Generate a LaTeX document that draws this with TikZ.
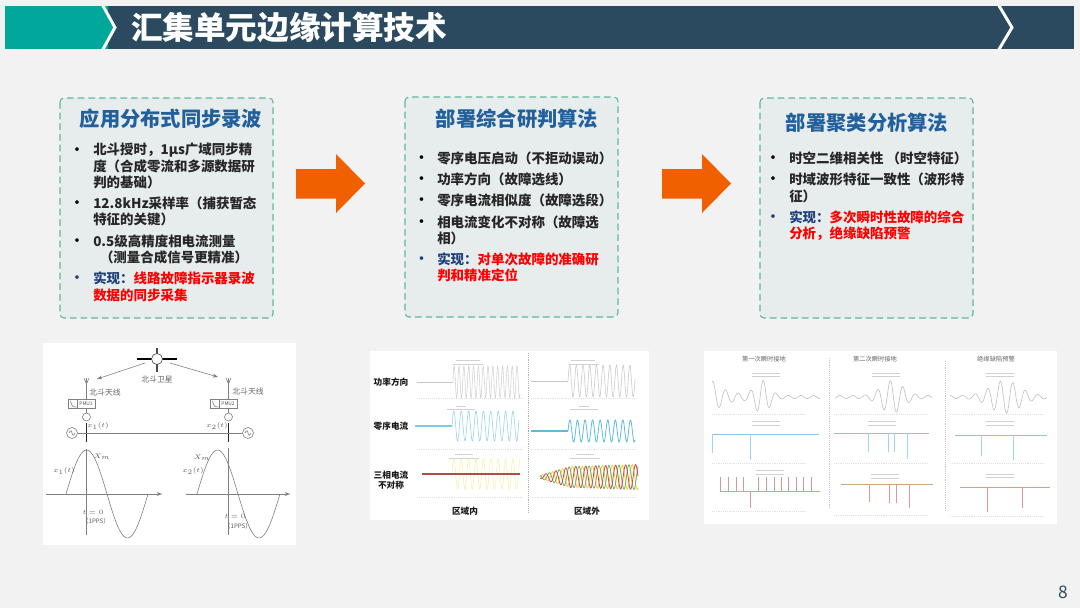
\documentclass[tikz,border=0pt]{standalone}
\usepackage{fontspec}
\setmainfont{Noto Sans CJK SC}
\usepackage{tikz}
\usetikzlibrary{arrows.meta}
\definecolor{pagebg}{HTML}{F2F2F2}
\definecolor{bannerteal}{HTML}{02A79C}
\definecolor{bannernavy}{HTML}{2B4A5F}
\definecolor{panelfill}{HTML}{E7ECEC}
\definecolor{paneldash}{HTML}{5DB8A0}
\definecolor{headblue}{HTML}{22609C}
\definecolor{fillorange}{HTML}{F06000}
\definecolor{donenavy}{HTML}{1F3F7A}
\definecolor{tracecyan}{HTML}{5FBBDD}
\tikzset{
	panelbox/.style={draw=paneldash,fill=panelfill,line width=0.8pt,dash pattern=on 5pt off 3pt,rounded corners=3pt},
	panelhead/.style={text=headblue,font=\fontsize{15.2}{17}\selectfont\bfseries,inner sep=0pt},
	itemline/.style={anchor=west,font=\fontsize{10.1}{12}\selectfont\bfseries,inner sep=0pt,text=black!85},
	dotmark/.style={anchor=center,yshift=-1pt,font=\fontsize{9.7}{12}\selectfont\bfseries,inner sep=0pt},
	photobox/.style={fill=white,draw=none},
	schemtext/.style={font=\fontsize{5.9}{7}\selectfont,text=black!60,inner sep=0pt},
	shotlabel/.style={font=\fontsize{4.7}{6}\selectfont,text=black!60,inner sep=0pt},
	charthead/.style={font=\fontsize{6.5}{8}\selectfont\bfseries,text=black!90,inner sep=0pt},
	mathsmall/.style={font=\fontsize{4.6}{5}\selectfont\itshape,text=black!65,inner sep=0pt},
	schem/.style={draw=black!50,line width=0.45pt},
	smudge/.style={draw=black!18,line width=0.6pt},
	ticksrow/.style={draw=black!12,densely dotted},
}
\begin{document}
\begin{tikzpicture}[x=0.75pt,y=-0.75pt]
	\useasboundingbox (0,0) rectangle (1080,608);
	\fill[pagebg] (0,0) rectangle (1080,608);

	%--- banner ---
	\fill[bannerteal] (5,6) rectangle (108,49);
	\fill[bannernavy] (108,6) rectangle (1074,49);
	\fill[bannerteal] (108,6) -- (104,6) -- (115,27.5) -- (104,49) -- (108,49) -- cycle;
	\draw[white,line width=2.2pt] (102,4) -- (115,27.5) -- (102,51);
	\draw[white,line width=2.2pt] (998,4) -- (1012,27.5) -- (998,51);
	\fill[pagebg] (95,49) rectangle (110,52);
	\fill[pagebg] (95,3) rectangle (110,6);
	\fill[pagebg] (990,49) rectangle (1010,52);
	\fill[pagebg] (990,3) rectangle (1010,6);
	\node[text=white,font=\fontsize{23.7}{26}\selectfont\bfseries,inner sep=0pt] (titlenode) at (289,28) {汇集单元边缘计算技术};

	%--- three panels ---
	\draw[panelbox] (60,98) rectangle (273,318);
	\draw[panelbox] (405,97) rectangle (618,317);
	\draw[panelbox] (760,98) rectangle (973,318);
	\node[panelhead] (headone) at (171,118.5) {应用分布式同步录波};
	\node[panelhead] (headtwo) at (517,118.5) {部署综合研判算法};
	\node[panelhead] (headthree) at (867,123) {部署聚类分析算法};

	% first panel text
	\foreach \y/\lab in {150/北斗授时，1μs广域同步精, 166/度（合成零流和多源数据研, 182/判的基础）, 203/12.8kHz采样率（捕获暂态, 219/特征的关键）, 241/0.5级高精度相电流测量, 257/\hspace{0.5em}（测量合成信号更精准）}{
		\node[itemline] at (93,\y) {\lab};
	}
	\foreach \y in {150,203,241}{
		\node[dotmark] at (77,\y) {•};
	}
	\node[dotmark,text=donenavy] at (77,278) {•};
	\node[itemline] at (93,278) {\textcolor{donenavy}{实现：}\textcolor{red}{线路故障指示器录波}};
	\node[itemline,text=red] at (93,295) {数据的同步采集};

	% second panel text
	\foreach \y/\lab in {158/零序电压启动（不拒动误动）, 179/功率方向（故障选线）, 200/零序电流相似度（故障选段）, 222/相电流变化不对称（故障选, 238/相）}{
		\node[itemline] at (437,\y) {\lab};
	}
	\foreach \y in {158,179,200,222}{
		\node[dotmark] at (421.5,\y) {•};
	}
	\node[dotmark,text=donenavy] at (421.5,259) {•};
	\node[itemline] at (437,259) {\textcolor{donenavy}{实现：}\textcolor{red}{对单次故障的准确研}};
	\node[itemline,text=red] at (437,275) {判和精准定位};

	% third panel text
	\foreach \y/\lab in {158/时空二维相关性 （时空特征）, 179/时域波形特征一致性（波形特, 196/征）}{
		\node[itemline] at (789,\y) {\lab};
	}
	\foreach \y in {158,179}{
		\node[dotmark] at (773,\y) {•};
	}
	\node[dotmark,text=donenavy] at (773,217) {•};
	\node[itemline] at (789,217) {\textcolor{donenavy}{实现：}\textcolor{red}{多次瞬时性故障的综合}};
	\node[itemline,text=red] at (789,234) {分析，绝缘缺陷预警};

	%--- big arrows ---
	\fill[fillorange] (296,169) -- (336,169) -- (336,154) -- (365,183.5) -- (336,213) -- (336,198.5) -- (296,198.5) -- cycle;
	\fill[fillorange] (662,169) -- (702,169) -- (702,154) -- (731,183.5) -- (702,213) -- (702,198.5) -- (662,198.5) -- cycle;

	%--- left picture: Beidou timing ---
	\fill[photobox] (43,343) rectangle (296,545);
	\draw[black,line width=1.6pt] (137,359) -- (177,359);
	\draw[black!70,line width=0.8pt] (157,348) -- (157,372);
	\draw[black!70,fill=white,line width=0.5pt] (157,359) circle (5.5);
	\node[schemtext] (satlabel) at (157,380) {北斗卫星};
	\coordinate (satleft) at (145,363);
	\coordinate (satright) at (170,363);
	\coordinate (antone) at (97,379);
	\coordinate (anttwo) at (218,377);
	\draw[schem,-{Stealth[length=4pt]}] (satleft) -- (antone);
	\draw[schem,-{Stealth[length=4pt]}] (satright) -- (anttwo);
	\node[schemtext] at (105,392) {北斗天线};
	\node[schemtext] at (248,391) {北斗天线};
	% stations
	\foreach \x/\lab in {86.5/PMU1, 228.5/PMU2}{
		\draw[schem] (\x,384) -- (\x,414);
		\draw[schem] (\x-2.5,378) -- (\x,384) -- (\x+2.5,378) (\x,378) -- (\x,384);
		\draw[schem,fill=white] (\x-18,399) rectangle (\x+9,408);
		\draw[schem] (\x-18,399) rectangle (\x-9,408);
		\draw[schem] (\x-16,401) .. controls (\x-14,408) and (\x-13,407) .. (\x-10,407);
		\node[font=\fontsize{3.6}{4}\selectfont,text=black!70,inner sep=0] at (\x-0.5,403.5) {\lab};
		\draw[schem,fill=white] (\x,417) circle (4);
		\draw[black!85,line width=1.3pt] (\x,423) -- (\x,442);
	}
	\draw[schem] (78,433) -- (242,433);
	\foreach \x in {72,248}{
		\draw[schem,fill=white] (\x,433) circle (5.5);
		\draw[schem] (\x-3,433) .. controls (\x-1.5,430) and (\x-0.5,430) .. (\x,433) .. controls (\x+0.5,436) and (\x+1.5,436) .. (\x+3,433);
	}
	\node[mathsmall] at (98,426) {$x_1(t)$};
	\node[mathsmall] at (217,426) {$x_2(t)$};
	% waves
	\draw[schem,-{Stealth[length=4pt]}] (46,494) -- (162,494);
	\draw[schem,-{Stealth[length=4pt]}] (186,494) -- (290,494);
	\draw[schem] (86.5,449) -- (86.5,535);
	\draw[schem] (228.5,448) -- (228.5,535);
	\draw[schem,domain=66:107,samples=30,smooth] plot (\x,{494-44*sin(deg(3.14159*(\x-66)/41))});
	\draw[schem,domain=107:148,samples=30,smooth] plot (\x,{494+44*sin(deg(3.14159*(\x-107)/41))});
	\draw[schem,domain=197:238,samples=30,smooth] plot (\x,{494-44*sin(deg(3.14159*(\x-197)/41))});
	\draw[schem,domain=238:280,samples=30,smooth] plot (\x,{494+44*sin(deg(3.14159*(\x-238)/42))});
	\node[mathsmall] at (102,457) {$X_m$};
	\node[mathsmall] at (202,458) {$X_m$};
	\node[mathsmall] at (64,471) {$x_1(t)$};
	\node[mathsmall] at (193,471) {$x_2(t)$};
	\node[mathsmall] at (93,512) {$t=0$};
	\node[mathsmall] at (96,521) {（1PPS）};
	\node[mathsmall] at (235,516) {$t=0$};
	\node[mathsmall] at (238,526) {（1PPS）};

	%--- middle picture ---
	\fill[photobox] (370,351) rectangle (649,520);
	\draw[black!30,densely dotted] (528,353) -- (528,512);
	\node[charthead] at (391,382) {功率方向};
	\node[charthead] at (391,426) {零序电流};
	\node[charthead] at (391,475) {三相电流};
	\node[charthead] at (391,485) {不对称};
	\node[charthead] at (465,511) {区域内};
	\node[charthead] at (587,511) {区域外};
	% title smudges
	\foreach \x/\y/\w in {468/360/12, 468/364/15, 583/360/12, 584/364/15, 461/406/5, 461/409/14, 584/406/5, 584/409/14, 464/454/9, 464/458/15, 585/454/9, 585/458/15}{
		\draw[smudge] (\x-\w,\y) -- (\x+\w,\y);
	}
	% quiet part then sine
	\draw[black!22,line width=0.4pt] (417,382) -- (453,382);
	\draw[black!18,line width=0.4pt,domain=453:520,samples=300] plot (\x,{382-16*sin(deg((\x-453)*1.3))});
	\draw[black!22,line width=0.4pt] (531,381) -- (568,381);
	\draw[black!22,line width=0.4pt,domain=568:635,samples=200] plot (\x,{381-16*sin(deg((\x-568)*0.94))});
	\draw[tracecyan!80,line width=0.8pt] (415,426) -- (452,426);
	\draw[tracecyan!70,line width=0.4pt,domain=452:519,samples=200] plot (\x,{426-15*sin(deg((\x-452)*0.85))});
	\draw[tracecyan,line width=1.4pt] (531,431) -- (568,431);
	\draw[tracecyan,line width=0.6pt,domain=568:635,samples=200] plot (\x,{431-11*sin(deg((\x-568)*0.83))});
	\draw[yellow!70!orange!35,line width=0.4pt,domain=452:520,samples=200] plot (\x,{474-15*sin(deg((\x-452)*0.85))});
	\draw[red!55!black!70,line width=0.8pt] (422,474) -- (520,474);
	\foreach \c/\ph in {orange!50!yellow!80/0,green!50!black!60/120,red!70!black!70/240}{
		\draw[\c,line width=0.6pt,domain=540:638,samples=240] plot (\x,{477-(1.5+8*min(1,(\x-540)/30)+3*(\x-540)/98)*sin(deg((\x-540)*0.63)+\ph)});
	}
	\foreach \x/\y in {417/398, 531/398, 417/449, 531/449, 417/497, 531/497}{
		\draw[ticksrow] (\x,\y) -- (\x+105,\y);
	}

	%--- right picture ---
	\fill[photobox] (704,351) rectangle (1057,524);
	\node[shotlabel] at (764,359) {第一次瞬时接地};
	\node[shotlabel] at (875,359) {第二次瞬时接地};
	\node[shotlabel] at (996,359) {绝缘缺陷预警};
	\draw[black!22,densely dotted] (829,358) -- (829,508);
	\draw[black!22,densely dotted] (945,361) -- (945,512);
	\foreach \x/\y in {766/373, 766/376, 886/373, 886/376, 1000/373, 1000/376, 766/421, 766/425, 882/421, 882/425, 1000/421, 1000/425, 770/470, 770/474, 885/474, 885/478, 1000/474, 1000/477}{
		\draw[smudge] (\x-14,\y) -- (\x+14,\y);
	}
	% first row: bursts on a small ripple
	\draw[black!25,line width=0.45pt,domain=712:820,samples=220] plot (\x,{397-(1.5+15*exp(-(\x-712)/14)+15*exp(-pow((\x-762)/10,2)))*cos(deg((\x-713)*0.5))});
	\draw[black!25,line width=0.45pt,domain=835:932,samples=200] plot (\x,{397-(1.5+15*exp(-pow((\x-892)/15,2)))*cos(deg((\x-840)*0.5))});
	\draw[black!25,line width=0.45pt,domain=950:1047,samples=200] plot (\x,{397-(1.5+15*exp(-pow((\x-1005)/20,2)))*cos(deg((\x-950)*0.5))});
	% second and third rows: flat trace and spikes
	\draw[tracecyan!80,line width=0.7pt] (712,434) -- (819,434);
	\draw[tracecyan!80,line width=0.7pt] (834,433) -- (929,433);
	\draw[tracecyan!80,line width=0.7pt] (955,435) -- (1047,435);
	\foreach \x/\y/\z in {712/434/453, 750/434/460, 868/433/452, 888/433/452, 894/433/452, 907/433/459, 981/435/456, 1013/435/460}{
		\draw[tracecyan!60,line width=0.5pt] (\x,\y) -- (\x,\z);
	}
	\foreach \x in {720,728,736,743,758,766,774,781,788,796,803,811}{
		\draw[red!60!black!40,line width=0.5pt] (\x,477) -- (\x,491);
	}
	\draw[orange!60!black!50,line width=0.7pt] (720,491) -- (820,491);
	\draw[orange!60!black!50,line width=0.7pt] (841,484) -- (933,484);
	\draw[orange!60!black!50,line width=0.7pt] (960,487) -- (1050,487);
	\foreach \x/\y/\z in {750/491/508, 869/484/502, 889/484/503, 896/484/503, 909/484/508, 987/487/512, 1022/487/508}{
		\draw[red!70!black!40,line width=0.5pt] (\x,\y) -- (\x,\z);
	}
	\foreach \x/\y in {712/414, 834/414, 950/414, 712/463, 834/463, 950/463, 712/511, 834/515, 950/516}{
		\draw[ticksrow] (\x,\y) -- (\x+95,\y);
	}

	%--- page number ---
	\node[text=bannernavy,font=\fontsize{13}{14}\selectfont,inner sep=0pt] (pagenum) at (1063,592) {8};
\end{tikzpicture}
\end{document}
